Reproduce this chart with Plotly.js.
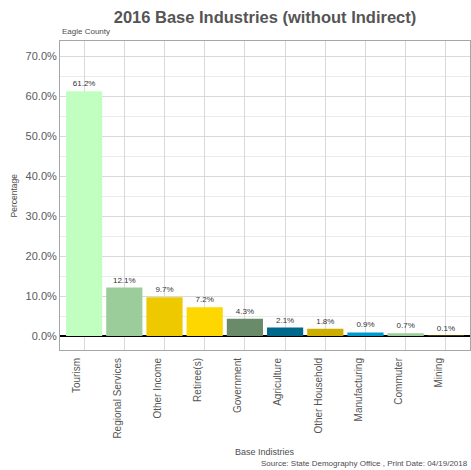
<!DOCTYPE html>
<html>
<head>
<meta charset="utf-8">
<script src="https://cdn.plot.ly/plotly-3.0.1.min.js"></script>
<style>html,body{margin:0;padding:0;background:#fff;}#chart{width:471px;height:470px;}</style>
</head>
<body>
<div id="chart"></div>
<script>
const categories = ["Tourism", "Regional Services", "Other Income", "Retiree(s)", "Government", "Agriculture", "Other Household", "Manufacturing", "Commuter", "Mining"];
const values = [61.2, 12.1, 9.7, 7.2, 4.3, 2.1, 1.8, 0.9, 0.7, 0.1];
const barColors = ["#C1FFC1", "#9BCD9B", "#EEC900", "#FFD700", "#698B69", "#00688B", "#CDAD00", "#009ACD", "#9BCD9B", "#8B7500"];
const yTicks = [0, 10, 20, 30, 40, 50, 60, 70];

const trace = {
  type: "bar",
  x: categories,
  y: values,
  width: 0.9,
  marker: {color: barColors, line: {width: 0}},
  text: values.map(v => v.toFixed(1) + "%"),
  textposition: "outside",
  constraintext: "none",
  cliponaxis: false,
  textfont: {family: "Liberation Sans, Arial, sans-serif", size: 8, color: "#333333"},
  hoverinfo: "none"
};

const layout = {
  width: 471, height: 470,
  margin: {l: 60, r: 1, t: 41, b: 120, pad: 0},
  paper_bgcolor: "#ffffff", plot_bgcolor: "#ffffff",
  font: {family: "Liberation Sans, Arial, sans-serif", color: "#4d4d4d"},
  showlegend: false,
  title: {
    text: "<b>2016 Base Industries (without Indirect)</b>",
    font: {size: 16.5, color: "#555555"},
    x: 265 / 471, xanchor: "center", xref: "container",
    y: 1 - 17 / 470, yanchor: "middle", yref: "container"
  },
  xaxis: {
    type: "category",
    range: [-0.6, 9.6],
    showgrid: true, gridcolor: "#d9d9d9", gridwidth: 1,
    showline: true, linecolor: "#a6a6a6", linewidth: 1, mirror: true,
    ticks: "", tickangle: -90,
    tickfont: {size: 10, color: "#555555"},
    ticklabelstandoff: 3,
    ticklabelshift: -7,
    zeroline: false, fixedrange: true
  },
  yaxis: {
    range: [-3.5, 73.75],
    tickvals: yTicks,
    ticktext: yTicks.map(v => v.toFixed(1) + "%"),
    showgrid: true, gridcolor: "#d9d9d9", gridwidth: 1,
    minor: {dtick: 5, tick0: 5, showgrid: true, gridcolor: "#ebebeb", gridwidth: 1, ticks: ""},
    showline: true, linecolor: "#a6a6a6", linewidth: 1, mirror: true,
    ticks: "",
    tickfont: {size: 11, color: "#5a5a5a"},
    zeroline: true, zerolinecolor: "#000000", zerolinewidth: 2,
    fixedrange: true
  },
  annotations: [
    {text: "Eagle County", xref: "paper", yref: "paper", x: 0, y: 1, xanchor: "left", yanchor: "bottom", yshift: 3,
     showarrow: false, font: {size: 8, color: "#4d4d4d"}},
    {text: "Percentage", xref: "paper", yref: "paper", x: 0, xshift: -47, y: 0.5, textangle: -90, xanchor: "center", yanchor: "middle",
     showarrow: false, font: {size: 8.5, color: "#4d4d4d"}},
    {text: "Base Indistries", xref: "paper", yref: "paper", x: 0.5, y: 0, yshift: -102, xanchor: "center", yanchor: "middle",
     showarrow: false, font: {size: 9, color: "#4d4d4d"}},
    {text: "Source: State Demography Office , Print Date: 04/19/2018", xref: "paper", yref: "paper", x: 1, y: 0, yshift: -113, xanchor: "right", yanchor: "middle",
     showarrow: false, font: {size: 8, color: "#4d4d4d"}}
  ]
};

Plotly.newPlot("chart", [trace], layout, {displayModeBar: false, staticPlot: true});
</script>
</body>
</html>
